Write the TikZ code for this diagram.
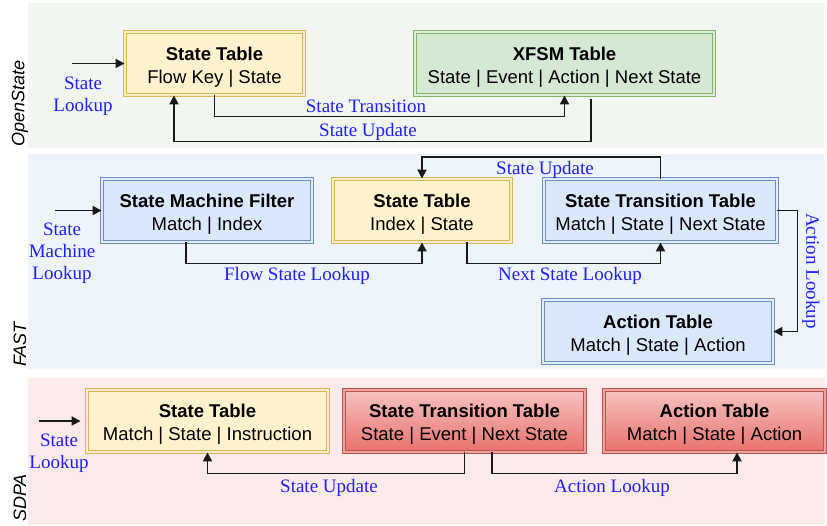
\documentclass[tikz,border=0pt]{standalone}
\usepackage{fontspec}
\setmainfont{Liberation Serif}
\setsansfont{Liberation Sans}
\usepackage{tikz}
\usetikzlibrary{arrows,arrows.meta,positioning}
\definecolor{osband}{HTML}{F1F6F0}
\definecolor{fastband}{HTML}{EEF4FC}
\definecolor{sdpaband}{HTML}{FBEAEA}
\definecolor{ylwfill}{HTML}{FFF2CC}
\definecolor{ylwline}{HTML}{D6B656}
\definecolor{grnfill}{HTML}{D5E8D4}
\definecolor{grnline}{HTML}{82B366}
\definecolor{blufill}{HTML}{DAE8FC}
\definecolor{bluline}{HTML}{6C8EBF}
\definecolor{redtop}{HTML}{F6C3C1}
\definecolor{redbot}{HTML}{E8716D}
\definecolor{redline}{HTML}{B85450}
\definecolor{lblblue}{HTML}{1F1FFF}
\newcommand{\tbltitle}[1]{\rule{0pt}{20pt}\textbf{#1}}

\tikzset{
  tbl/.style={draw, double distance=1.6pt, line width=0.9pt, align=center,
    inner sep=0pt, minimum height=63pt,
    font=\sffamily\fontsize{18.5}{23}\selectfont},
  ylwtbl/.style={tbl, draw=ylwline, double=ylwfill!70!ylwline!60!white, fill=ylwfill},
  grntbl/.style={tbl, draw=grnline, double=grnfill!80!white, fill=grnfill},
  blutbl/.style={tbl, draw=bluline, double=blufill!80!white, fill=blufill},
  redtbl/.style={tbl, draw=redline, double=redtop!60!redbot, top color=redtop, bottom color=redbot},
  link/.style={line width=1.9pt, draw=black!90, -{Triangle[length=9pt,width=9pt]}},
  lbl/.style={text=lblblue, align=center, inner sep=0pt,
    font=\rmfamily\fontsize{19}{22}\selectfont},
  bandname/.style={inner sep=0pt, anchor=west, rotate=90,
    font=\sffamily\itshape\fontsize{18}{20}\selectfont}
}

\begin{document}
\begin{tikzpicture}[x=1pt,y=-1pt]
\useasboundingbox (0,0) rectangle (827,525);
% bands
\fill[osband] (28,3) rectangle (825,148);
\fill[fastband] (28,154) rectangle (825,369);
\fill[sdpaband] (28,378) rectangle (825,525);
\node[bandname] (osname) at (20,147) {OpenState};
\node[bandname] (fastname) at (20,367) {FAST};
\node[bandname] (sdpaname) at (20,522) {SDPA};

% OpenState
\node[ylwtbl, minimum width=179pt] (ost) at (214.5,63.5) {\tbltitle{State Table}\\Flow Key | State};
\node[grntbl, minimum width=299pt] (xfsm) at (564.5,63.5) {\tbltitle{XFSM Table}\\State | Event | Action | Next State};
\coordinate (osin) at (72,63.5);
\draw[link] (osin) -- (ost.west);
\node[lbl] (oslook) at (83,96) {State\\Lookup};
\draw[link] (ost.south) -- ++(0,21) -| (xfsm.south);
\node[lbl] (ostrans) at (366,106) {State Transition};
\draw[link] ([xshift=26.5pt,yshift=-4pt]xfsm.south) -- ++(0,42) -| ([xshift=-40.5pt]ost.south);
\node[lbl] (osupd) at (368,132) {State Update};

% FAST
\node[blutbl, minimum width=210pt] (smf) at (207,210.5) {\tbltitle{State Machine Filter}\\Match | Index};
\node[ylwtbl, minimum width=178pt] (fst) at (422,210.5) {\tbltitle{State Table}\\Index | State};
\node[blutbl, minimum width=233pt] (stt) at (660.5,210.5) {\tbltitle{State Transition Table}\\Match | State | Next State};
\node[blutbl, minimum width=230pt] (fat) at (658,331.5) {\tbltitle{Action Table}\\Match | State | Action};
\coordinate (fastin) at (55,210.5);
\draw[link] (fastin) -- (smf.west);
\node[lbl] (fastlook) at (62,253) {State\\Machine\\Lookup};
\draw[link] ([xshift=-21pt]smf.south) -- ++(0,21) -| (fst.south);
\node[lbl] (flowlook) at (297,276) {Flow State Lookup};
\draw[link] ([xshift=45pt]fst.south) -- ++(0,21) -| (stt.south);
\node[lbl] (nextlook) at (570,276) {Next State Lookup};
\draw[link] (stt.north) -- ++(0,-22) -| (fst.north);
\node[lbl] (fastupd) at (545,170) {State Update};
\draw[link] (stt.east) -- ++(20,0) |- (fat.east);
\node[lbl, rotate=-90] (actlook) at (811,271) {Action Lookup};

% SDPA
\node[ylwtbl, minimum width=241pt, minimum height=62pt] (sst) at (207.5,421) {\tbltitle{State Table}\\Match | State | Instruction};
\node[redtbl, minimum width=241pt, minimum height=62pt] (sstt) at (464.5,421) {\tbltitle{State Transition Table}\\State | Event | Next State};
\node[redtbl, minimum width=221pt, minimum height=62pt] (sat) at (714.5,421) {\tbltitle{Action Table}\\Match | State | Action};
\coordinate (sdpain) at (39,421);
\draw[link, shorten >=6pt] (sdpain) -- (sst.west);
\node[lbl] (sdpalook) at (59,453) {State\\Lookup};
\draw[link] (sstt.south) -- ++(0,21) -| (sst.south);
\node[lbl] (sdpaupd) at (329,488) {State Update};
\draw[link] ([xshift=27.5pt]sstt.south) -- ++(0,21) -| ([xshift=22.5pt]sat.south);
\node[lbl] (sdpaact) at (612,488) {Action Lookup};
\end{tikzpicture}
\end{document}
